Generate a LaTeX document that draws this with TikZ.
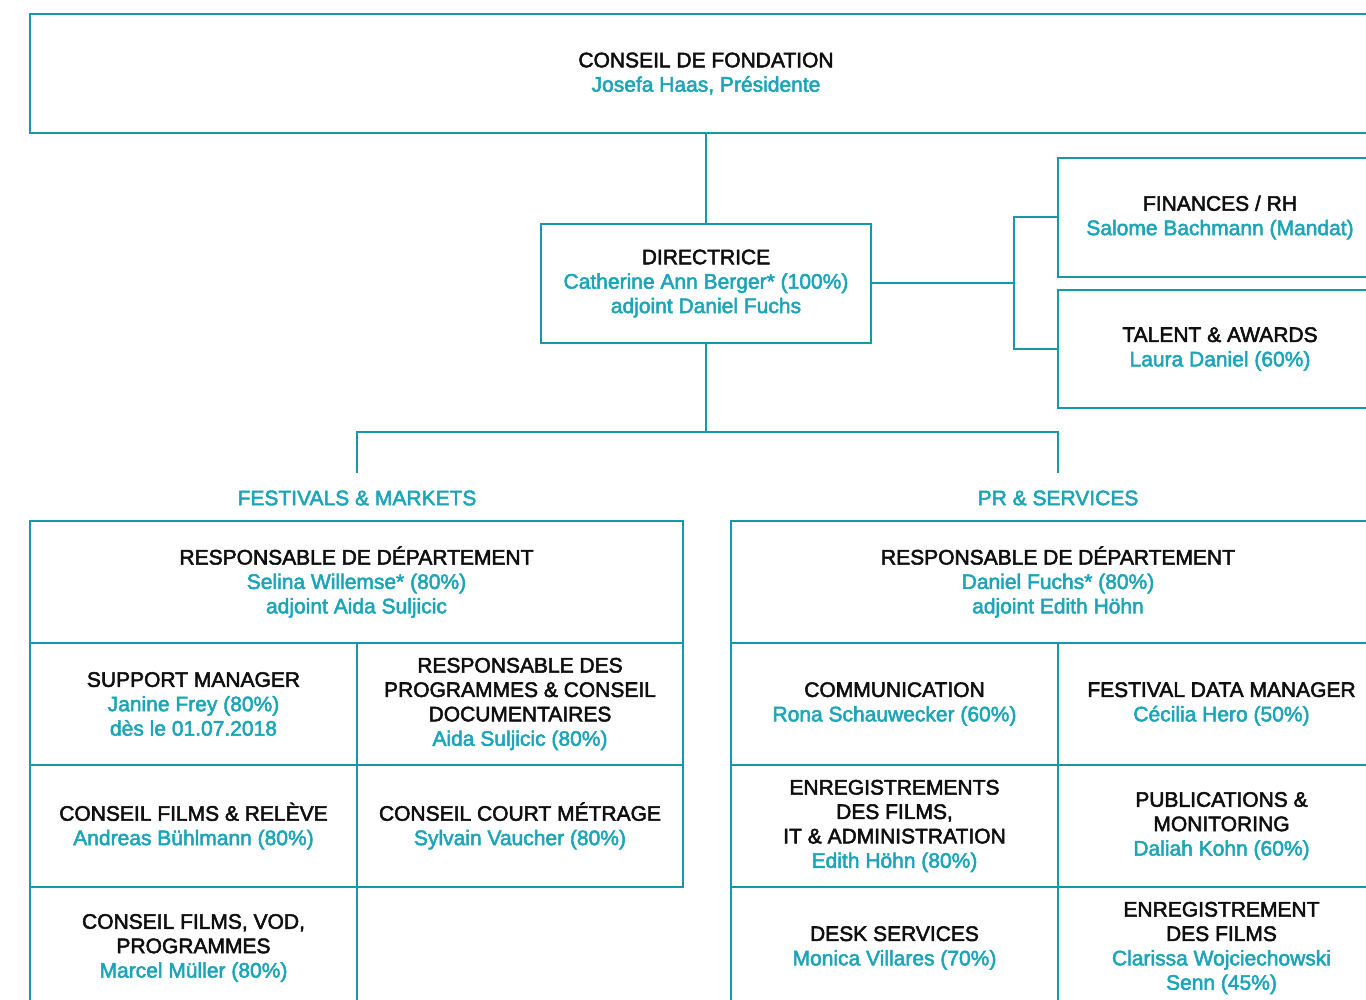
\documentclass[tikz,border=0pt]{standalone}
\usepackage{fontspec}
\setmainfont{Liberation Sans}[FakeBold=2.5]
\definecolor{lineteal}{RGB}{22,152,172}
\definecolor{textteal}{RGB}{28,164,184}
\definecolor{ink}{RGB}{15,15,15}
\newcommand\nm[1]{\textcolor{textteal}{#1}}
\begin{document}
\begin{tikzpicture}[x=1pt,y=-1pt,
  font=\fontsize{21}{24.4}\selectfont\color{ink},
  box/.style={draw=lineteal, line width=2pt, inner sep=0pt, align=center, anchor=center},
  cellL/.style={box, minimum width=327pt, minimum height=122pt},
  cellR/.style={box, minimum width=326pt, minimum height=122pt},
  conn/.style={draw=lineteal, line width=2pt},
  head/.style={text=textteal, inner sep=0pt, anchor=center}]
\useasboundingbox (0,0) rectangle (1366,1000);
\clip (0,0) rectangle (1366,1000);
% top
\node[box, minimum width=1352pt, minimum height=119pt] (top) at (706,73.5) {CONSEIL DE FONDATION\\\nm{Josefa Haas, Présidente}};
\node[box, minimum width=330pt, minimum height=119pt] (dir) at (706,283.5) {DIRECTRICE\\\nm{Catherine Ann Berger* (100\%)}\\\nm{adjoint Daniel Fuchs}};
\node[box, minimum width=324pt, minimum height=119pt] (fin) at (1220,217.5) {FINANCES / RH\\\nm{Salome Bachmann (Mandat)}};
\node[box, minimum width=324pt, minimum height=118pt] (tal) at (1220,349) {TALENT \& AWARDS\\\nm{Laura Daniel (60\%)}};
\coordinate (jr) at (1014,283.5);
\coordinate (jd) at (706,432);
\coordinate (c1) at (357,473);
\coordinate (c2) at (1058,473);
\draw[conn] (top.south) -- (dir.north);
\draw[conn] (dir.east) -- (jr);
\draw[conn] (fin.west) -| (jr) |- (tal.west);
\draw[conn] (dir.south) -- (jd);
\draw[conn] (c1) |- (jd) -| (c2);
\node[head] (fm) at (357,498) {FESTIVALS \& MARKETS};
\node[head] (pr) at (1058,498) {PR \& SERVICES};
% left department
\node[box, minimum width=653pt, minimum height=122pt] (hl) at (356.5,582) {RESPONSABLE DE DÉPARTEMENT\\\nm{Selina Willemse* (80\%)}\\\nm{adjoint Aida Suljicic}};
\node[cellL] (l11) at (193.5,704) {SUPPORT MANAGER\\\nm{Janine Frey (80\%)}\\\nm{dès le 01.07.2018}};
\node[cellR] (l12) at (520,704) {RESPONSABLE DES\\PROGRAMMES \& CONSEIL\\DOCUMENTAIRES\\\nm{Aida Suljicic (80\%)}};
\node[cellL] (l21) at (193.5,826) {CONSEIL FILMS \& RELÈVE\\\nm{Andreas Bühlmann (80\%)}};
\node[cellR] (l22) at (520,826) {CONSEIL COURT MÉTRAGE\\\nm{Sylvain Vaucher (80\%)}};
\node[cellL] (l31) at (193.5,948) {CONSEIL FILMS, VOD,\\PROGRAMMES\\\nm{Marcel Müller (80\%)}};
% right department
\node[box, minimum width=654pt, minimum height=122pt] (hr) at (1058,582) {RESPONSABLE DE DÉPARTEMENT\\\nm{Daniel Fuchs* (80\%)}\\\nm{adjoint Edith Höhn}};
\node[cellL] (r11) at (894.5,704) {COMMUNICATION\\\nm{Rona Schauwecker (60\%)}};
\node[cellL] (r12) at (1221.5,704) {FESTIVAL DATA MANAGER\\\nm{Cécilia Hero (50\%)}};
\node[cellL] (r21) at (894.5,826) {ENREGISTREMENTS\\DES FILMS,\\IT \& ADMINISTRATION\\\nm{Edith Höhn (80\%)}};
\node[cellL] (r22) at (1221.5,826) {PUBLICATIONS \&\\MONITORING\\\nm{Daliah Kohn (60\%)}};
\node[cellL] (r31) at (894.5,948) {DESK SERVICES\\\nm{Monica Villares (70\%)}};
\node[cellL] (r32) at (1221.5,948) {ENREGISTREMENT\\DES FILMS\\\nm{Clarissa Wojciechowski}\\\nm{Senn (45\%)}};
\end{tikzpicture}
\end{document}
